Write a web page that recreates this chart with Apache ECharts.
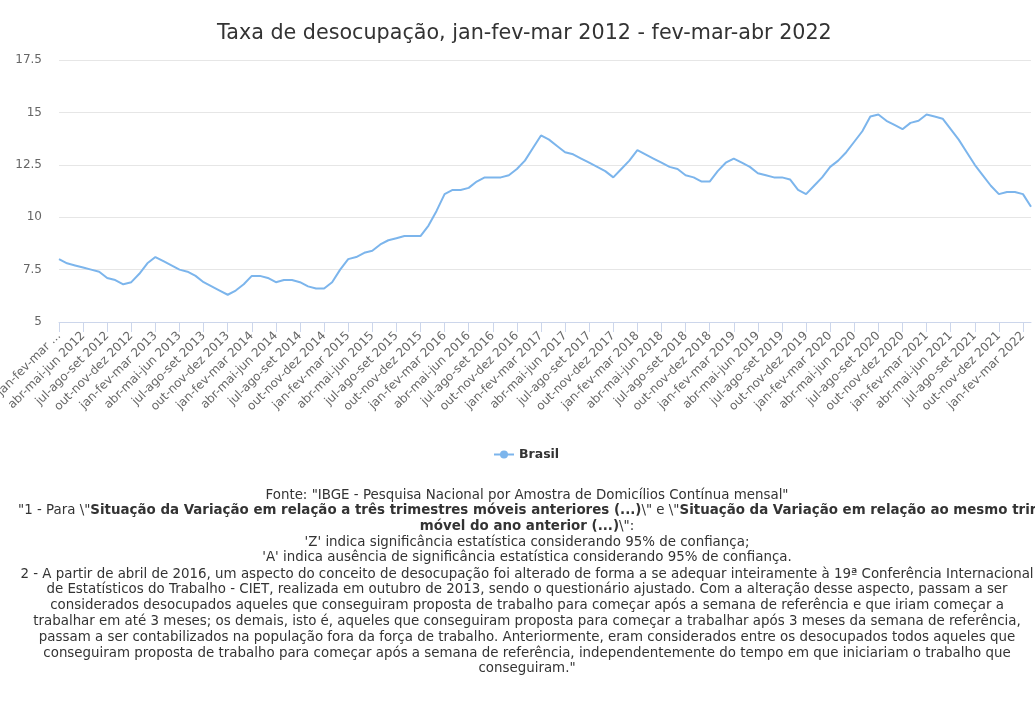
<!DOCTYPE html>
<html>
<head>
<meta charset="utf-8">
<script src="https://cdn.jsdelivr.net/npm/echarts@6/dist/echarts.min.js"></script>
<style>
html,body{margin:0;padding:0;background:#fff;}
#chart{width:1035px;height:702px;}
</style>
</head>
<body>
<div id="chart"></div>
<script>
// Rolling-quarter names (dez-jan-fev ... nov-dez-jan) and data
const quarterNames = ['dez-jan-fev','jan-fev-mar','fev-mar-abr','mar-abr-mai','abr-mai-jun','mai-jun-jul',
  'jun-jul-ago','jul-ago-set','ago-set-out','set-out-nov','out-nov-dez','nov-dez-jan'];
const firstYear = 2012;
const seriesName = 'Brasil';
const values = [
  8.0, 7.8, 7.7, 7.6, 7.5, 7.4, 7.1, 7.0, 6.8, 6.9, 7.3, 7.8,
  8.1, 7.9, 7.7, 7.5, 7.4, 7.2, 6.9, 6.7, 6.5, 6.3, 6.5, 6.8,
  7.2, 7.2, 7.1, 6.9, 7.0, 7.0, 6.9, 6.7, 6.6, 6.6, 6.9, 7.5,
  8.0, 8.1, 8.3, 8.4, 8.7, 8.9, 9.0, 9.1, 9.1, 9.1, 9.6, 10.3,
  11.1, 11.3, 11.3, 11.4, 11.7, 11.9, 11.9, 11.9, 12.0, 12.3, 12.7, 13.3,
  13.9, 13.7, 13.4, 13.1, 13.0, 12.8, 12.6, 12.4, 12.2, 11.9, 12.3, 12.7,
  13.2, 13.0, 12.8, 12.6, 12.4, 12.3, 12.0, 11.9, 11.7, 11.7, 12.2, 12.6,
  12.8, 12.6, 12.4, 12.1, 12.0, 11.9, 11.9, 11.8, 11.3, 11.1, 11.5, 11.9,
  12.4, 12.7, 13.1, 13.6, 14.1, 14.8, 14.9, 14.6, 14.4, 14.2, 14.5, 14.6,
  14.9, 14.8, 14.7, 14.2, 13.7, 13.1, 12.5, 12.0, 11.5, 11.1, 11.2, 11.2,
  11.1, 10.5
];
const yTicks = {min: 5, max: 17.5, interval: 2.5};
const titleText = 'Taxa de desocupação, jan-fev-mar 2012 - fev-mar-abr 2022';
const footLines = [
  'Fonte: "IBGE - Pesquisa Nacional por Amostra de Domicílios Contínua mensal"',
  '"1 - Para \\"{b|Situação da Variação em relação a três trimestres móveis anteriores (...)}\\" e \\"{b|Situação da Variação em relação ao mesmo trimestre}',
  '{b|móvel do ano anterior (...)}\\":',
  "'Z' indica significância estatística considerando 95% de confiança;",
  "'A' indica ausência de significância estatística considerando 95% de confiança.",
  '2 - A partir de abril de 2016, um aspecto do conceito de desocupação foi alterado de forma a se adequar inteiramente à 19ª Conferência Internacional',
  'de Estatísticos do Trabalho - CIET, realizada em outubro de 2013, sendo o questionário ajustado. Com a alteração desse aspecto, passam a ser',
  'considerados desocupados aqueles que conseguiram proposta de trabalho para começar após a semana de referência e que iriam começar a',
  'trabalhar em até 3 meses; os demais, isto é, aqueles que conseguiram proposta para começar a trabalhar após 3 meses da semana de referência,',
  'passam a ser contabilizados na população fora da força de trabalho. Anteriormente, eram considerados entre os desocupados todos aqueles que',
  'conseguiram proposta de trabalho para começar após a semana de referência, independentemente do tempo em que iniciariam o trabalho que',
  'conseguiram."'
];

const categories = values.map(function (v, k) {
  const endMonth = 2 + k; // months since jan 2012 (0 = jan)
  return quarterNames[(endMonth + 11) % 12] + ' ' + (firstYear + Math.floor(endMonth / 12));
});

const FONT = '"DejaVu Sans", sans-serif';
const FOOT_SIZE = 13.4;
const footY = [496, 511, 527, 543, 558, 575, 590, 606, 622, 638, 654, 669];
const graphics = footLines.map(function (t, i) {
  const leftAligned = (i === 1);
  return {
    type: 'text',
    x: leftAligned ? 18 : 527,
    y: footY[i],
    silent: true,
    style: {
      text: t,
      x: 0, y: 0,
      align: leftAligned ? 'left' : 'center',
      verticalAlign: 'middle',
      fill: '#333',
      font: FOOT_SIZE + 'px ' + FONT,
      rich: { b: { fontWeight: 'bold', fontSize: FOOT_SIZE, fontFamily: FONT, fill: '#333' } }
    }
  };
});

const chart = echarts.init(document.getElementById('chart'), null, {renderer: 'canvas'});
chart.setOption({
  animation: false,
  backgroundColor: '#fff',
  textStyle: {fontFamily: FONT},
  title: {
    text: titleText,
    left: 212,
    top: 18,
    textStyle: {fontFamily: FONT, fontSize: 20.7, fontWeight: 'normal', color: '#333'}
  },
  legend: {
    data: [seriesName],
    left: 488,
    top: 443,
    itemWidth: 20,
    itemHeight: 10,
    itemGap: 6,
    textStyle: {fontFamily: FONT, fontSize: 12.5, fontWeight: 'bold', color: '#333'}
  },
  grid: {left: 59, right: 4, top: 60, bottom: 380, containLabel: false, outerBoundsMode: 'none'},
  xAxis: {
    type: 'category',
    data: categories,
    boundaryGap: false,
    axisLine: {lineStyle: {color: '#ccd6eb', width: 1}},
    axisTick: {show: true, interval: 2, length: 10, lineStyle: {color: '#ccd6eb'}},
    axisLabel: {
      interval: 2,
      rotate: 45,
      margin: 12,
      color: '#666',
      fontFamily: FONT,
      fontSize: 12,
      hideOverlap: false,
      formatter: function (val, idx) { return idx === 0 ? val.replace(/ \d{4}$/, ' ...') : val; }
    },
    splitLine: {show: false}
  },
  yAxis: {
    type: 'value',
    min: yTicks.min,
    max: yTicks.max,
    interval: yTicks.interval,
    axisLine: {show: false},
    axisTick: {show: false},
    axisLabel: {color: '#666', fontFamily: FONT, fontSize: 12, margin: 17},
    splitLine: {lineStyle: {color: '#e6e6e6', width: 1}}
  },
  series: [{
    name: seriesName,
    type: 'line',
    data: values,
    showSymbol: false,
    symbol: 'circle',
    symbolSize: 8,
    color: '#7cb5ec',
    lineStyle: {width: 2, color: '#7cb5ec'},
    itemStyle: {color: '#7cb5ec'}
  }],
  graphic: graphics
});
</script>
</body>
</html>
